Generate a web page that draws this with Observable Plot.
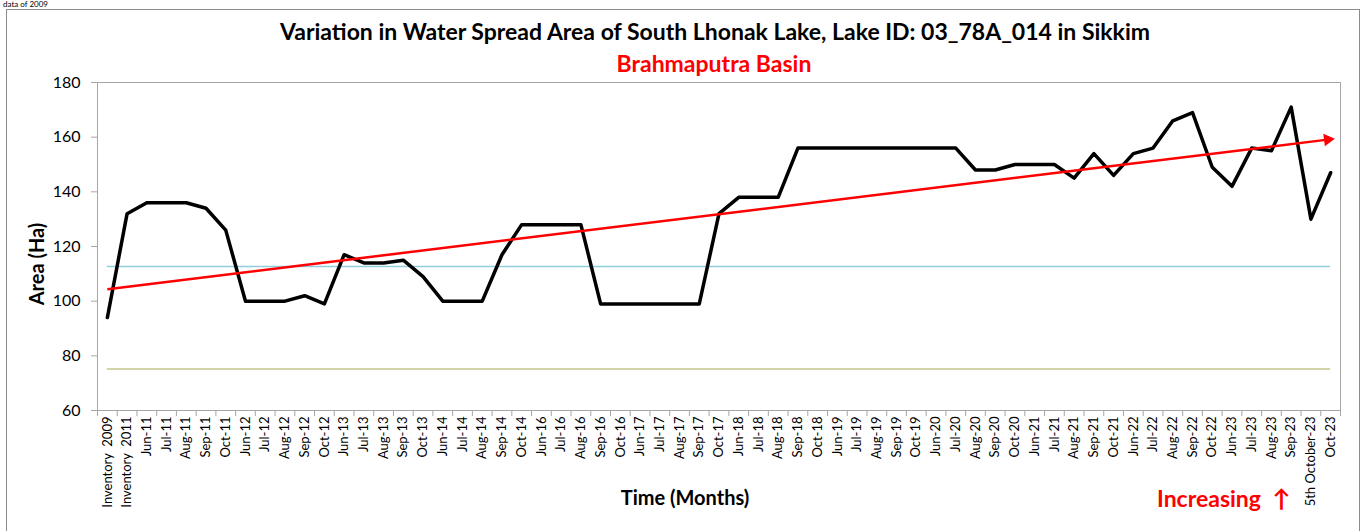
<!DOCTYPE html>
<html>
<head>
<meta charset="utf-8">
<script src="https://cdn.jsdelivr.net/npm/d3@7"></script>
<script src="https://cdn.jsdelivr.net/npm/@observablehq/plot@0.6"></script>
<style>
  body { margin: 0; background: #fff; font-family: Lato, "Open Sans", sans-serif; }
  #wrap { position: relative; width: 1368px; height: 531px; overflow: hidden; background: #fff; }
  #border { position: absolute; left: 6px; top: 9px; width: 1354px; height: 600px; border: 1px solid #8c8c8c; box-sizing: border-box; }
  .t { position: absolute; white-space: nowrap; line-height: 1.1; }
  #chart { position: absolute; left: 0; top: 0; }
</style>
</head>
<body>
<div id="wrap">
  <div class="t" id="note" style="left:3px; top:0px; font-size:8px; line-height:1; color:#000;">data of 2009</div>
  <div id="border"></div>
  <div id="chart"></div>
  <div class="t" id="title" style="left:715px; top:19px; transform:translateX(-50%); font-size:23px; font-weight:bold; color:#000;">Variation in Water Spread Area of South Lhonak Lake, Lake ID: 03_78A_014 in Sikkim</div>
  <div class="t" id="subtitle" style="left:714px; top:51px; transform:translateX(-50%); font-size:23px; font-weight:bold; color:#ff0000;">Brahmaputra Basin</div>
  <div class="t" id="ylabel" style="left:36px; top:264px; transform:translate(-50%,-50%) rotate(-90deg); font-size:20px; font-weight:bold; color:#000;">Area (Ha)</div>
  <div class="t" id="xlabel" style="left:685px; top:486px; transform:translateX(-50%); font-size:20px; font-weight:bold; color:#000;">Time (Months)</div>
  <div class="t" id="inc" style="left:1157px; top:485px; font-size:23px; font-weight:bold; color:#ff0000;">Increasing&nbsp; <span style="font-size:24px;">&#x2191;</span></div>
</div>
<script>
// ---- data ----
const categories = [
  "Inventory  2009", "Inventory  2011",
  "Jun-11", "Jul-11", "Aug-11", "Sep-11", "Oct-11",
  "Jun-12", "Jul-12", "Aug-12", "Sep-12", "Oct-12",
  "Jun-13", "Jul-13", "Aug-13", "Sep-13", "Oct-13",
  "Jun-14", "Jul-14", "Aug-14", "Sep-14", "Oct-14",
  "Jun-16", "Jul-16", "Aug-16", "Sep-16", "Oct-16",
  "Jun-17", "Jul-17", "Aug-17", "Sep-17", "Oct-17",
  "Jun-18", "Jul-18", "Aug-18", "Sep-18", "Oct-18",
  "Jun-19", "Jul-19", "Aug-19", "Sep-19", "Oct-19",
  "Jun-20", "Jul-20", "Aug-20", "Sep-20", "Oct-20",
  "Jun-21", "Jul-21", "Aug-21", "Sep-21", "Oct-21",
  "Jun-22", "Jul-22", "Aug-22", "Sep-22", "Oct-22",
  "Jun-23", "Jul-23", "Aug-23", "Sep-23", "5th October-23", "Oct-23"
];
const areaHa = [
  94, 132,
  136, 136, 136, 134, 126,
  100, 100, 100, 102, 99,
  117, 114, 114, 115, 109,
  100, 100, 100, 117, 128,
  128, 128, 128, 99, 99,
  99, 99, 99, 99, 132,
  138, 138, 138, 156, 156,
  156, 156, 156, 156, 156,
  156, 156, 148, 148, 150,
  150, 150, 145, 154, 146,
  154, 156, 166, 169, 149,
  142, 156, 155, 171, 130, 147
];
const trendStartEnd = [104.4, 159.1];
const refLevels = [112.7, 75.2];
const yTicks = [60, 80, 100, 120, 140, 160, 180];

// ---- chart ----
const n = categories.length;
const rows = categories.map((c, i) => ({i, c, v: areaHa[i]}));
const trend = [{x1: 0, y1: trendStartEnd[0], x2: n - 1.15, y2: trendStartEnd[1]}];
const axisGray = "#a6a6a6";

const chart = Plot.plot({
  width: 1368,
  height: 531,
  marginTop: 82,
  marginBottom: 121,
  marginLeft: 97,
  marginRight: 28,
  style: {fontFamily: "Lato, 'Open Sans', sans-serif", background: "transparent", color: "#000"},
  x: {type: "linear", domain: [-0.5, n - 0.5], axis: null},
  y: {domain: [60, 180], axis: null},
  marks: [
    Plot.frame({stroke: axisGray, strokeWidth: 1}),
    // y ticks
    Plot.axisY(yTicks, {tickSize: 6, tickFormat: () => "", stroke: axisGray, label: null}),
    Plot.axisY(yTicks, {tickSize: 0, tickPadding: 17, fontSize: 16, fill: "#000", label: null}),
    // x tick marks between categories
    Plot.axisX(d3.range(n + 1).map(i => i - 0.5), {tickSize: 6, tickFormat: () => "", stroke: axisGray, label: null}),
    // x labels
    Plot.axisX(d3.range(n), {tickSize: 0, tickPadding: 6, tickRotate: -90, tickFormat: i => categories[i], fontSize: 13, fill: "#000", label: null}),
    // reference levels
    Plot.ruleY([refLevels[0]], {x1: () => 0, x2: () => n - 1, stroke: "#92cddc", strokeWidth: 1.5}),
    Plot.ruleY([refLevels[1]], {x1: () => 0, x2: () => n - 1, stroke: "#c4c48e", strokeWidth: 1.5}),
    // area series
    Plot.line(rows, {x: "i", y: "v", stroke: "#000", strokeWidth: 3.5, strokeLinejoin: "round", curve: "linear"}),
    // trend with filled arrowhead
    Plot.link(trend, {x1: "x1", y1: "y1", x2: "x2", y2: "y2", stroke: "#ff0000", strokeWidth: 2.5}),
    Plot.dot(trend, {x: "x2", y: "y2", symbol: "triangle2", rotate: 83, r: 6, fill: "#ff0000", stroke: "none"})
  ]
});
document.getElementById("chart").appendChild(chart);
</script>
</body>
</html>
